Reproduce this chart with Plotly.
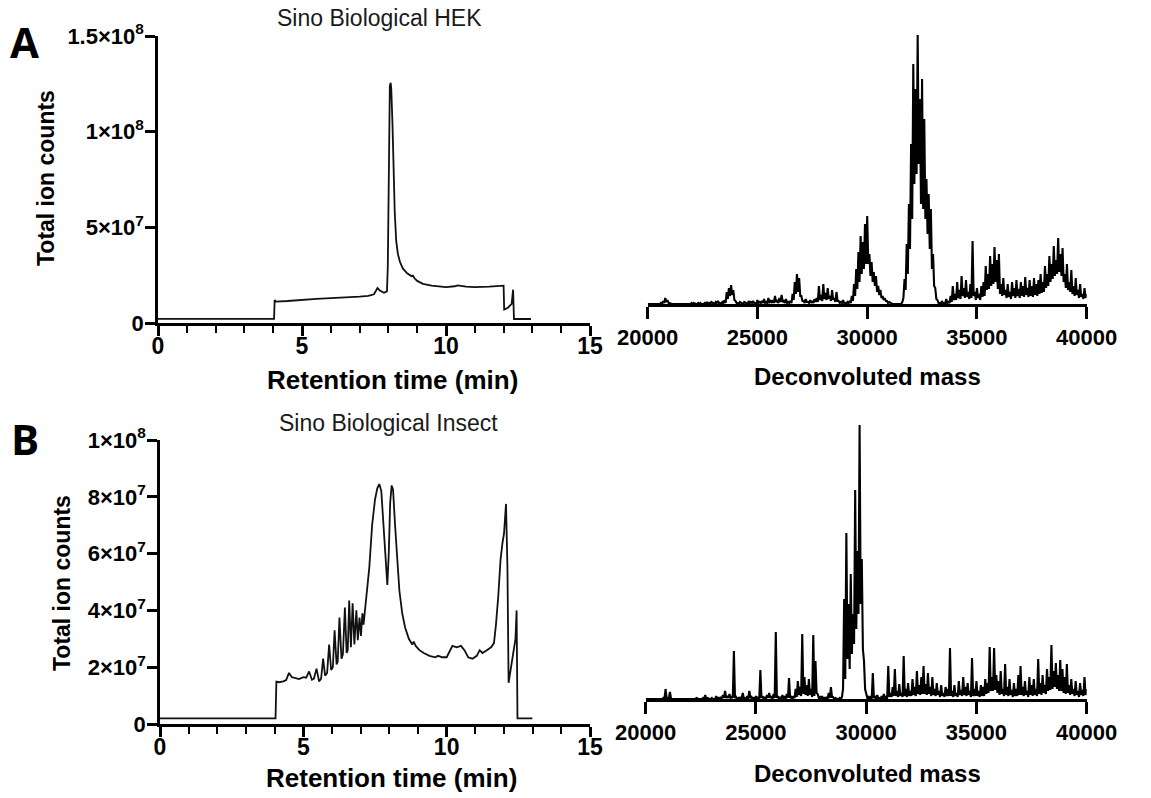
import plotly.graph_objects as go

W, H = 1151, 798

# ---------------- data ----------------
hek_time = [0, 4.03, 4.05, 4.1, 4.5, 5.0, 5.5, 6.0, 6.5, 7.0, 7.3, 7.5, 7.62, 7.7, 7.85, 7.95,
            7.98, 8.02, 8.05, 8.08, 8.1, 8.14, 8.18, 8.22, 8.27, 8.33, 8.4, 8.5, 8.65, 8.8, 8.85,
            8.9, 9.0, 9.2, 9.5, 9.8, 10.0, 10.3, 10.4, 10.7, 11.0, 11.5, 11.95, 12.0, 12.02,
            12.15, 12.28, 12.33, 12.36, 12.95]
hek_tic = [2.2e6, 2.2e6, 1.2e7, 1.12e7, 1.15e7, 1.22e7, 1.26e7, 1.3e7, 1.33e7, 1.38e7, 1.42e7,
           1.5e7, 1.83e7, 1.7e7, 1.58e7, 1.65e7,
           3.0e7, 9.0e7, 1.24e8, 1.255e8, 1.22e8, 1.05e8, 8.0e7, 5.8e7, 4.3e7, 3.6e7, 3.2e7,
           2.85e7, 2.6e7, 2.45e7, 2.48e7,
           2.35e7, 2.2e7, 2.05e7, 1.95e7, 1.9e7, 1.88e7, 1.92e7, 1.97e7, 1.9e7, 1.88e7, 1.9e7,
           1.98e7, 1.95e7, 7.0e6,
           8.0e6, 1.0e7, 1.74e7, 2.1e6, 2.1e6]

ins_time = [0, 4.03, 4.06, 4.15, 4.3, 4.4, 4.5, 4.6, 4.7, 4.85, 5.0, 5.1, 5.2, 5.3, 5.37, 5.46,
            5.55, 5.62, 5.69, 5.76, 5.83, 5.9, 5.97, 6.03, 6.09, 6.16, 6.2, 6.26, 6.33, 6.38,
            6.45, 6.51, 6.55, 6.6, 6.66, 6.72, 6.78, 6.85, 6.9, 6.96, 7.01, 7.06, 7.1, 7.15,
            7.22, 7.3, 7.4, 7.5, 7.58, 7.65, 7.72, 7.8, 7.86, 7.93, 7.98, 8.03, 8.08, 8.13, 8.2,
            8.27, 8.35, 8.45, 8.55, 8.68, 8.8, 8.85, 8.92, 9.05, 9.2, 9.4, 9.6, 9.7, 9.85, 10.0,
            10.1, 10.2, 10.35, 10.5, 10.62, 10.75, 10.9, 11.05, 11.15, 11.25, 11.4, 11.55, 11.65,
            11.72, 11.8, 11.88, 11.95, 12.0, 12.07, 12.12, 12.16, 12.25, 12.35, 12.4, 12.44,
            12.47, 12.99]
ins_tic = [2.0e6, 2.0e6, 1.49e7, 1.47e7, 1.5e7, 1.55e7, 1.8e7, 1.65e7, 1.62e7, 1.58e7, 1.65e7,
           1.63e7, 1.85e7, 1.56e7, 1.6e7, 1.95e7,
           1.5e7, 1.6e7, 2.3e7, 1.7e7, 1.8e7, 2.8e7, 1.9e7, 2.0e7, 3.3e7, 2.1e7, 2.2e7, 3.75e7,
           2.3e7, 2.45e7,
           4.1e7, 2.5e7, 2.6e7, 4.35e7, 2.7e7, 4.25e7, 2.8e7, 4.0e7, 2.95e7, 3.75e7, 3.1e7,
           3.9e7, 3.5e7, 4.0e7,
           4.6e7, 5.5e7, 7.0e7, 7.9e7, 8.3e7, 8.45e7, 8.2e7, 7.0e7, 5.8e7, 4.9e7, 6.0e7, 7.8e7,
           8.4e7, 8.25e7, 7.0e7,
           5.8e7, 4.7e7, 3.9e7, 3.4e7, 3.0e7, 2.8e7, 2.9e7, 2.75e7, 2.6e7, 2.5e7, 2.4e7, 2.35e7,
           2.4e7, 2.35e7, 2.35e7,
           2.55e7, 2.75e7, 2.7e7, 2.75e7, 2.6e7, 2.35e7, 2.3e7, 2.4e7, 2.6e7, 2.5e7, 2.6e7,
           2.7e7, 2.85e7,
           3.5e7, 4.5e7, 5.8e7, 6.4e7, 6.7e7, 7.75e7, 5.5e7, 1.45e7, 2.0e7, 2.6e7, 3.0e7, 4.0e7,
           2.0e6, 2.0e6]

# deconvoluted mass grid (Da), 50 Da apart
mass = list(range(20000, 40001, 50))

# relative intensity, HEK sample (one row per 1000 Da)
hek_mass_int = [
    0, 0, 0, 0, 0, 0, 0, 0, 0, 0, 0, 0, 1, 0, 3, 1, 6, 2, 4, 1,
    1, 0, 0, 0, 0, 0, 0, 0, 0, 0, 0, 0, 0, 0, 0, 0, 0, 0, 0, 0,
    1, 0, 1, 0, 0, 0, 1, 0, 1, 0, 0, 0, 1, 0, 2, 0, 1, 0, 2, 1,
    1, 0, 2, 1, 3, 1, 1, 0, 2, 1, 4, 1, 12, 5, 16, 8, 19, 9, 14, 4,
    3, 1, 1, 0, 2, 1, 1, 0, 2, 1, 1, 0, 3, 1, 2, 1, 3, 1, 1, 0,
    4, 1, 2, 1, 3, 1, 5, 1, 2, 1, 6, 2, 3, 1, 4, 1, 8, 2, 3, 1,
    6, 2, 9, 2, 3, 1, 5, 1, 2, 1, 3, 1, 10, 4, 22, 10, 30, 12, 26, 8,
    8, 3, 3, 1, 5, 2, 2, 1, 4, 1, 3, 1, 5, 2, 6, 2, 18, 4, 9, 3,
    20, 5, 11, 4, 16, 5, 8, 3, 14, 4, 6, 2, 12, 3, 3, 1, 2, 1, 4, 1,
    1, 0, 2, 1, 3, 1, 8, 3, 20, 8, 35, 15, 52, 22, 68, 30, 62, 35, 80, 40,
    88, 40, 50, 28, 42, 22, 32, 18, 28, 12, 18, 9, 14, 6, 8, 4, 6, 3, 3, 1,
    2, 1, 1, 0, 0, 0, 0, 0, 0, 0, 0, 0, 2, 6, 25, 14, 60, 30, 100, 55,
    160, 85, 240, 120, 215, 130, 269, 140, 205, 100, 225, 95, 185, 85, 125, 70, 110, 55, 95, 35,
    50, 18, 16, 5, 4, 1, 1, 0, 3, 1, 1, 0, 5, 1, 2, 1, 8, 2, 18, 4,
    10, 4, 22, 6, 14, 5, 28, 8, 16, 6, 24, 7, 12, 5, 20, 6, 63, 8, 12, 4,
    16, 6, 10, 4, 18, 7, 22, 8, 38, 14, 30, 15, 48, 18, 40, 20, 57, 22, 44, 15,
    50, 10, 20, 8, 26, 9, 14, 6, 20, 7, 12, 5, 22, 8, 16, 6, 24, 8, 15, 6,
    22, 8, 18, 7, 27, 9, 16, 7, 24, 8, 18, 7, 26, 9, 20, 8, 24, 10, 30, 11,
    22, 12, 38, 16, 30, 18, 48, 22, 40, 25, 58, 28, 44, 30, 66, 32, 50, 28, 56, 22,
    30, 16, 40, 14, 22, 12, 34, 10, 18, 8, 26, 9, 14, 6, 20, 7, 10, 5, 16, 6,
    10]

# relative intensity, Insect sample (one row per 1000 Da)
ins_mass_int = [
    0, 0, 0, 0, 0, 0, 0, 0, 0, 0, 0, 0, 0, 0, 0, 0, 1, 0, 10, 1,
    1, 0, 7, 0, 0, 0, 0, 0, 0, 0, 0, 0, 0, 0, 0, 0, 0, 0, 0, 0,
    0, 0, 0, 0, 0, 0, 1, 0, 0, 0, 0, 0, 1, 0, 4, 0, 1, 0, 0, 0,
    1, 0, 0, 0, 3, 0, 1, 0, 2, 0, 4, 1, 8, 1, 3, 1, 5, 1, 2, 1,
    48, 1, 2, 0, 1, 0, 2, 0, 6, 1, 1, 0, 3, 0, 8, 1, 2, 0, 1, 0,
    3, 0, 2, 0, 29, 1, 3, 0, 2, 0, 4, 1, 6, 1, 3, 0, 5, 1, 67, 1,
    3, 0, 2, 0, 4, 1, 2, 0, 5, 1, 21, 1, 2, 0, 3, 1, 10, 2, 18, 4,
    12, 3, 65, 5, 22, 4, 14, 3, 20, 4, 10, 2, 64, 3, 38, 6, 5, 1, 2, 0,
    3, 0, 1, 0, 2, 0, 6, 1, 12, 2, 2, 0, 1, 0, 0, 0, 1, 0, 2, 10,
    100, 20, 166, 40, 95, 30, 125, 45, 85, 55, 209, 70, 148, 85, 274, 95, 140, 50, 38, 10,
    5, 1, 2, 0, 3, 0, 26, 1, 2, 0, 4, 1, 1, 0, 3, 0, 5, 1, 2, 0,
    33, 2, 6, 2, 12, 3, 30, 3, 8, 2, 15, 3, 6, 2, 43, 3, 10, 2, 16, 3,
    8, 3, 20, 4, 12, 3, 28, 5, 14, 4, 22, 5, 33, 5, 15, 4, 26, 5, 12, 3,
    22, 4, 10, 3, 16, 4, 8, 2, 14, 3, 6, 2, 12, 3, 10, 3, 51, 3, 8, 2,
    14, 3, 6, 2, 18, 4, 9, 3, 22, 4, 12, 3, 16, 4, 8, 2, 41, 3, 10, 3,
    18, 3, 8, 2, 14, 3, 12, 3, 20, 5, 16, 6, 52, 8, 22, 8, 51, 9, 24, 6,
    18, 4, 28, 5, 10, 3, 35, 4, 12, 3, 20, 4, 9, 2, 16, 3, 10, 3, 24, 4,
    33, 4, 12, 3, 18, 4, 8, 2, 22, 4, 14, 3, 20, 4, 10, 3, 40, 5, 16, 4,
    24, 6, 14, 5, 30, 8, 22, 9, 54, 10, 28, 12, 36, 10, 24, 8, 39, 8, 30, 6,
    22, 5, 35, 6, 14, 4, 20, 5, 10, 3, 18, 4, 8, 2, 16, 4, 9, 3, 22, 4,
    10]

assert len(hek_mass_int) == len(mass) and len(ins_mass_int) == len(mass)

time_ticks = [0, 5, 10, 15]
mass_ticks = [20000, 25000, 30000, 35000, 40000]
hek_yticks = [0, 5e7, 1e8, 1.5e8]
hek_ylabels = ["0", "5×10<sup>7</sup>", "1×10<sup>8</sup>", "1.5×10<sup>8</sup>"]
ins_yticks = [0, 2e7, 4e7, 6e7, 8e7, 1e8]
ins_ylabels = ["0", "2×10<sup>7</sup>", "4×10<sup>7</sup>", "6×10<sup>7</sup>",
               "8×10<sup>7</sup>", "1×10<sup>8</sup>"]

# ---------------- figure ----------------
def px(x):
    return x / W

def py(y):
    return 1 - y / H

AX_FONT = "Liberation Sans, Arial, Helvetica, sans-serif"
ttickfont = dict(family=AX_FONT, size=23, color="black", weight="bold")
mtickfont = dict(family=AX_FONT, size=22, color="black", weight="bold")
ytickfont = dict(family=AX_FONT, size=22, color="black", weight="bold")

fig = go.Figure()
line_c = dict(color="#111111", width=1.8)
spec_c = dict(color="#000000", width=2.1)
fig.add_trace(go.Scatter(x=hek_time, y=hek_tic, mode="lines", line=line_c, xaxis="x", yaxis="y"))
fig.add_trace(go.Scatter(x=mass, y=hek_mass_int, mode="lines", line=spec_c, xaxis="x2", yaxis="y2"))
fig.add_trace(go.Scatter(x=ins_time, y=ins_tic, mode="lines", line=line_c, xaxis="x3", yaxis="y3"))
fig.add_trace(go.Scatter(x=mass, y=ins_mass_int, mode="lines", line=spec_c, xaxis="x4", yaxis="y4"))


def time_xaxis(domain, anchor):
    return dict(domain=domain, anchor=anchor, range=[0, 15], tickvals=time_ticks,
                automargin=False, ticklabelstandoff=-9,
                showline=True, linewidth=2.5, linecolor="black", ticks="outside",
                ticklen=10, tickwidth=2.5, tickcolor="black", tickfont=ttickfont,
                showgrid=False, zeroline=False,
                minor=dict(dtick=1, tick0=0, ticks="outside", ticklen=7, tickwidth=2.2,
                           tickcolor="black", showgrid=False))


def mass_xaxis(domain, anchor):
    return dict(domain=domain, anchor=anchor, range=[20000, 40000], tickvals=mass_ticks,
                ticktext=[str(v) for v in mass_ticks], automargin=False,
                showline=True, linewidth=2.5, linecolor="black", ticks="outside",
                ticklen=12, tickwidth=2.5, tickcolor="black", tickfont=mtickfont,
                showgrid=False, zeroline=False)


def count_yaxis(domain, anchor, rng, vals, labels):
    return dict(domain=domain, anchor=anchor, range=rng, tickvals=vals, ticktext=labels,
                automargin=False, ticklabelstandoff=-3,
                showline=True, linewidth=2.5, linecolor="black", ticks="outside",
                ticklen=10, tickwidth=2.5, tickcolor="black", tickfont=ytickfont,
                showgrid=False, zeroline=False)


fig.update_layout(
    width=W, height=H, margin=dict(l=0, r=0, t=0, b=0, autoexpand=False),
    paper_bgcolor="white", plot_bgcolor="white", showlegend=False,
    xaxis=time_xaxis([px(158), px(590)], "y"),
    yaxis=count_yaxis([py(323), py(36)], "x", [0, 1.5e8], hek_yticks, hek_ylabels),
    xaxis2=mass_xaxis([px(647.7), px(1086.7)], "y2"),
    yaxis2=dict(domain=[py(304), py(35)], anchor="x2", range=[0, 269], visible=False,
                automargin=False),
    xaxis3=time_xaxis([px(160), px(590)], "y3"),
    yaxis3=count_yaxis([py(724), py(440)], "x3", [0, 1e8], ins_yticks, ins_ylabels),
    xaxis4=mass_xaxis([px(645.7), px(1086.7)], "y4"),
    yaxis4=dict(domain=[py(699), py(424)], anchor="x4", range=[0, 275], visible=False,
                automargin=False),
)

rt_font = dict(family=AX_FONT, size=26, color="black", weight="bold")
dm_font = dict(family=AX_FONT, size=24, color="black", weight="bold")
ytitle_font = dict(family=AX_FONT, size=23, color="black", weight="bold")
head_font = dict(family=AX_FONT, size=23, color="#1a1a1a")
letter_font = dict(family="Open Sans, Noto Sans, sans-serif", size=42, color="black", weight="bold")

annos = [
    ("A", 24, 42, letter_font, 0),
    ("B", 25, 438, letter_font, 0),
    ("Sino Biological HEK", 380, 18, head_font, 0),
    ("Sino Biological Insect", 389, 423, head_font, 0),
    ("Retention time (min)", 392, 380, rt_font, 0),
    ("Retention time (min)", 391, 778, rt_font, 0),
    ("Deconvoluted mass", 867, 377, dm_font, 0),
    ("Deconvoluted mass", 867, 773, dm_font, 0),
    ("Total ion counts", 46, 178, ytitle_font, -90),
    ("Total ion counts", 62, 583, ytitle_font, -90),
]
for text, x, y, f, ang in annos:
    fig.add_annotation(text=text, x=px(x), y=py(y), xref="paper", yref="paper",
                       showarrow=False, font=f, textangle=ang,
                       xanchor="center", yanchor="middle")

fig.write_html("out.html", config={"displayModeBar": False},
               post_script="document.body.style.margin='0';document.body.style.overflow='hidden';")
